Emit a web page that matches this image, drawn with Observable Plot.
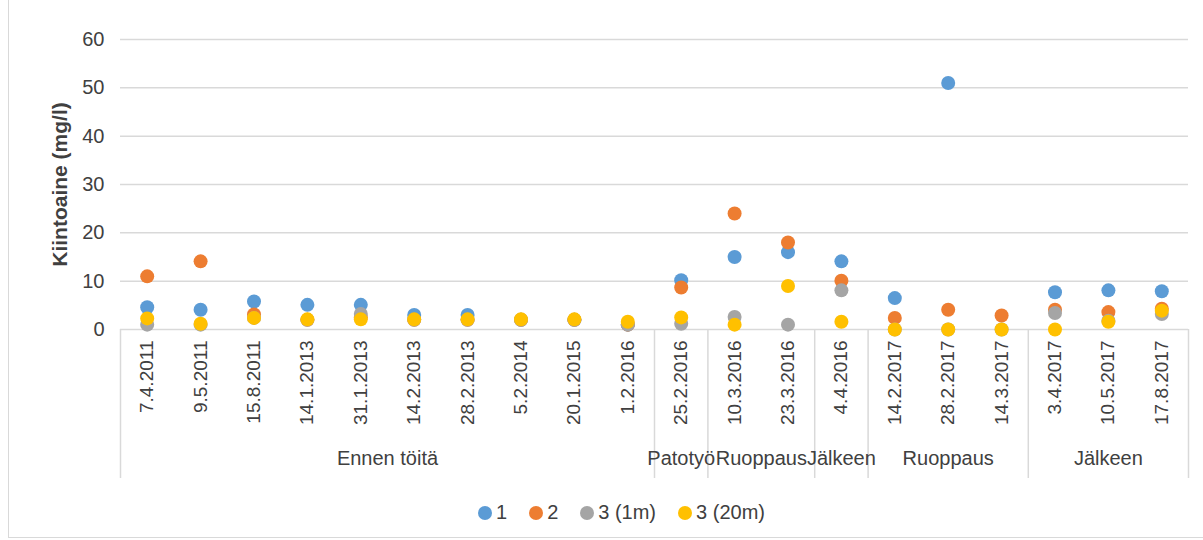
<!DOCTYPE html>
<html>
<head>
<meta charset="utf-8">
<script src="https://cdn.jsdelivr.net/npm/d3@7"></script>
<script src="https://cdn.jsdelivr.net/npm/@observablehq/plot@0.6"></script>
<style>
  html, body { margin: 0; padding: 0; background: #fff; }
  body { width: 1203px; height: 540px; position: relative; overflow: hidden; font-family: "Liberation Sans", Arial, sans-serif; }
  #frame { position: absolute; left: 8px; top: -2px; width: 1300px; height: 540px; border: 1px solid #d9d9d9; box-sizing: border-box; }
  #chart { position: absolute; left: 0; top: 0; }
  #legend { position: absolute; left: 478px; top: 501px; display: flex; align-items: center; font-size: 20px; color: #404040; white-space: nowrap; }
  .item { display: flex; align-items: center; margin-right: 22px; }
  .sw { width: 14px; height: 14px; border-radius: 50%; margin-right: 4px; }
</style>
</head>
<body>
<div id="frame"></div>
<div id="chart"></div>
<div id="legend"></div>
<script>
// ---- Data ----
const dates = ["7.4.2011","9.5.2011","15.8.2011","14.1.2013","31.1.2013","14.2.2013","28.2.2013","5.2.2014","20.1.2015","1.2.2016",
               "25.2.2016","10.3.2016","23.3.2016","4.4.2016","14.2.2017","28.2.2017","14.3.2017","3.4.2017","10.5.2017","17.8.2017"];
const groups = ["Ennen töitä","Ennen töitä","Ennen töitä","Ennen töitä","Ennen töitä","Ennen töitä","Ennen töitä","Ennen töitä","Ennen töitä","Ennen töitä",
                "Patotyö","Ruoppaus","Ruoppaus","Jälkeen","Ruoppaus","Ruoppaus","Ruoppaus","Jälkeen","Jälkeen","Jälkeen"];
const seriesNames = ["1", "2", "3 (1m)", "3 (20m)"];
const colors = ["#5B9BD5", "#ED7D31", "#A5A5A5", "#FFC000"];
const s1   = [4.6, 4.1, 5.8, 5.1, 5.1, 3.0, 3.0, 2.0, 2.0, 1.0, 10.2, 15.0, 16.0, 14.1, 6.5, 51.0, null, 7.7, 8.1, 7.9];
const s2   = [11.0, 14.1, 3.1, 2.0, 2.5, 2.0, 2.0, 2.0, 2.0, 1.0, 8.7, 24.0, 18.0, 10.1, 2.4, 4.1, 2.9, 4.1, 3.6, 4.3];
const s3a  = [1.0, 1.0, 2.4, 2.0, 3.2, 2.0, 2.0, 2.0, 2.0, 1.0, 1.2, 2.6, 1.0, 8.1, 0.0, 0.0, 0.0, 3.4, 1.8, 3.2];
const s3b  = [2.3, 1.2, 2.4, 2.1, 2.1, 2.1, 2.1, 2.1, 2.1, 1.6, 2.5, 1.0, 9.0, 1.6, 0.0, 0.0, 0.0, 0.0, 1.6, 3.9];
const yTicks = [0, 10, 20, 30, 40, 50, 60];
const yLabel = "Kiintoaine (mg/l)";

// ---- Build tables ----
const rows = [];
[s1, s2, s3a, s3b].forEach((s, k) => s.forEach((v, i) => {
  if (v != null) rows.push({ i, date: dates[i], series: seriesNames[k], value: v });
}));
const spans = [];
groups.forEach((g, i) => {
  const last = spans[spans.length - 1];
  if (last && last.name === g && last.end === i - 1) last.end = i;
  else spans.push({ name: g, start: i, end: i });
});
const bounds = [-0.5, ...spans.map(s => s.end + 0.5)];

const plot = Plot.plot({
  width: 1203,
  height: 490,
  marginLeft: 120,
  marginRight: 15,
  marginTop: 39,
  marginBottom: 161,
  x: { type: "linear", domain: [-0.5, dates.length - 0.5] },
  y: { domain: [0, 60] },
  color: { domain: seriesNames, range: colors },
  style: { fontFamily: "Liberation Sans, Arial, sans-serif", color: "#404040", background: "transparent", overflow: "visible" },
  marks: [
    Plot.gridY(yTicks.filter(d => d > 0), { stroke: "#d9d9d9", strokeOpacity: 1, strokeWidth: 1.5 }),
    Plot.ruleY([0], { stroke: "#d9d9d9", strokeWidth: 1.5 }),
    Plot.ruleX(bounds, { x: d => d, y1: 0, y2: 0, insetBottom: -149, stroke: "#d9d9d9", strokeWidth: 1.5 }),
    Plot.dot(rows, { x: "i", y: "value", fill: "series", r: 7 }),
    Plot.axisY({ ticks: yTicks, tickSize: 0, tickPadding: 16, fontSize: 20, label: null }),
    Plot.axisX({ ticks: d3.range(dates.length), tickFormat: i => dates[i], tickRotate: -90, tickSize: 0, tickPadding: 11, fontSize: 19, label: null }),
    Plot.text(spans, { x: s => (s.start + s.end) / 2, text: "name", frameAnchor: "bottom", dy: 135, fontSize: 20, fill: "#404040" }),
    Plot.text([yLabel], { text: d => d, frameAnchor: "left", textAnchor: "middle", dx: -60, rotate: -90, fontSize: 21, fontWeight: "bold", fill: "#404040" })
  ]
});
document.getElementById("chart").appendChild(plot);

const legend = document.getElementById("legend");
seriesNames.forEach((n, k) => {
  const it = document.createElement("div");
  it.className = "item";
  const sw = document.createElement("span");
  sw.className = "sw";
  sw.style.background = colors[k];
  const t = document.createElement("span");
  t.textContent = n;
  it.appendChild(sw); it.appendChild(t);
  legend.appendChild(it);
});
</script>
</body>
</html>
